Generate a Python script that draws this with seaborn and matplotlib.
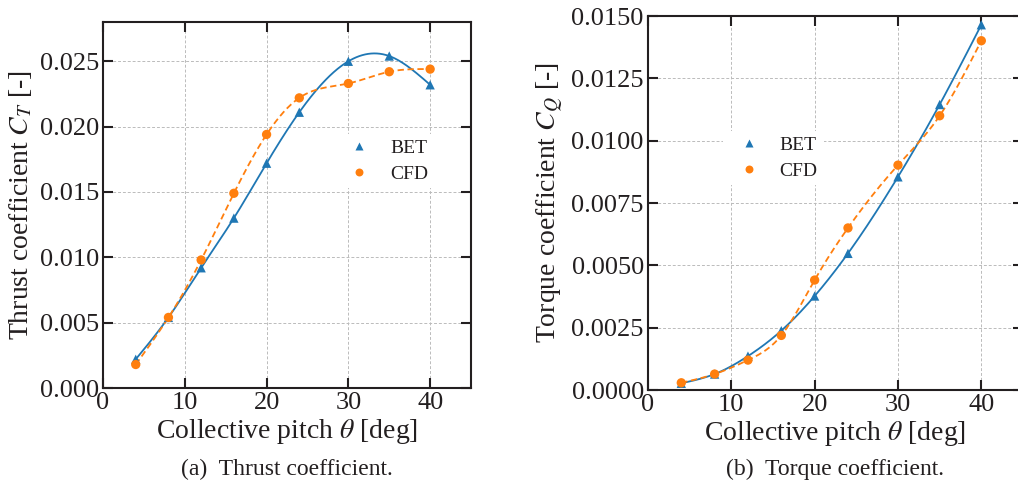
import numpy as np
import pandas as pd
import matplotlib
matplotlib.use("Agg")
import matplotlib.pyplot as plt
import seaborn as sns

pitch = [4, 8, 12, 16, 20, 24, 30, 35, 40]
ct_bet = [0.0022, 0.0054, 0.0092, 0.0130, 0.0172, 0.0211, 0.0250, 0.0254, 0.0232]
ct_cfd = [0.0018, 0.0054, 0.0098, 0.0149, 0.0194, 0.0222, 0.0233, 0.0242, 0.0244]
cq_bet = [0.00027, 0.00064, 0.00136, 0.00238, 0.00377, 0.00548, 0.00855, 0.01145, 0.01465]
cq_cfd = [0.00029, 0.00064, 0.00120, 0.00219, 0.00441, 0.00650, 0.00902, 0.01100, 0.01401]
xticks = [0, 10, 20, 30, 40]
ct_ticks = [0.000, 0.005, 0.010, 0.015, 0.020, 0.025]
cq_ticks = [0.0, 0.0025, 0.0050, 0.0075, 0.0100, 0.0125, 0.0150]


def spline(x, y, xs):
    """Natural cubic spline through the data points."""
    x = np.asarray(x, float); y = np.asarray(y, float)
    n = len(x)
    h = np.diff(x)
    A = np.zeros((n, n)); b = np.zeros(n)
    A[0, 0] = 1; A[-1, -1] = 1
    for i in range(1, n - 1):
        A[i, i - 1] = h[i - 1]
        A[i, i] = 2 * (h[i - 1] + h[i])
        A[i, i + 1] = h[i]
        b[i] = 6 * ((y[i + 1] - y[i]) / h[i] - (y[i] - y[i - 1]) / h[i - 1])
    M = np.linalg.solve(A, b)
    out = np.empty_like(xs)
    for k, xv in enumerate(xs):
        i = min(max(np.searchsorted(x, xv) - 1, 0), n - 2)
        t1 = x[i + 1] - xv; t0 = xv - x[i]
        out[k] = (M[i] * t1**3 / (6 * h[i]) + M[i + 1] * t0**3 / (6 * h[i])
                  + (y[i] / h[i] - M[i] * h[i] / 6) * t1
                  + (y[i + 1] / h[i] - M[i + 1] * h[i] / 6) * t0)
    return out


sns.set_style("ticks")
plt.rcParams["font.family"] = ["Liberation Serif", "DejaVu Serif"]
plt.rcParams["mathtext.fontset"] = "stix"

blue = "#1f77b4"
orange = "#ff7f0e"
dark = "#231f20"

fig = plt.figure(figsize=(10.18, 4.86), dpi=100)
axL = fig.add_axes([0.1012, 0.2016, 0.3615, 0.753])
axR = fig.add_axes([0.6365, 0.1975, 0.3684, 0.7695])


def draw(ax, bet, cfd, ylim, yticks, ylabel, fmt, caption, leg_anchor):
    xs = np.linspace(pitch[0], pitch[-1], 300)
    df_b = pd.DataFrame({"x": xs, "y": spline(pitch, bet, xs)})
    df_c = pd.DataFrame({"x": xs, "y": spline(pitch, cfd, xs)})
    sns.lineplot(data=df_b, x="x", y="y", ax=ax, color=blue, lw=1.3, zorder=3)
    sns.lineplot(data=df_c, x="x", y="y", ax=ax, color=orange, lw=1.3,
                 linestyle=(0, (3.5, 2)), zorder=3)
    pts = pd.DataFrame({"x": pitch * 2, "y": list(bet) + list(cfd),
                        "s": ["BET"] * len(pitch) + ["CFD"] * len(pitch)})
    sns.scatterplot(data=pts, x="x", y="y", hue="s", style="s",
                    markers={"BET": "^", "CFD": "o"},
                    palette={"BET": blue, "CFD": orange},
                    s=45, edgecolor="none", ax=ax, zorder=4)
    ax.set_xlim(0, 45)
    ax.set_ylim(*ylim)
    ax.set_xticks(xticks)
    ax.set_yticks(yticks)
    ax.set_yticklabels([fmt.format(v) for v in yticks])
    ax.grid(True, color="#bbbbbb", linestyle=(0, (3, 2)), lw=0.7)
    ax.tick_params(direction="in", length=7, width=1.5, colors=dark,
                   labelcolor=dark, labelsize=19, top=True, right=True, pad=3)
    for sp in ax.spines.values():
        sp.set_color(dark)
        sp.set_linewidth(1.5)
    ax.set_xlabel(r"Collective pitch $\theta$ [deg]", fontsize=20, color=dark, labelpad=2)
    ax.set_ylabel(ylabel, fontsize=20, color=dark, labelpad=4)
    h, l = ax.get_legend_handles_labels()
    leg = ax.legend(h, l, loc="center left", bbox_to_anchor=leg_anchor,
                    frameon=True, fontsize=14, handletextpad=0.6,
                    labelspacing=0.4, borderpad=0.3, fancybox=False,
                    markerscale=0.85)
    leg.get_frame().set_edgecolor("none")
    leg.get_frame().set_facecolor("white")
    leg.get_frame().set_alpha(1)
    for t in leg.get_texts():
        t.set_color(dark)
    bb = ax.get_position()
    fig.text((bb.x0 + bb.x1) / 2, 0.034, caption, ha="center",
             va="center", fontsize=17, color=dark)


draw(axL, ct_bet, ct_cfd, (0, 0.028), ct_ticks, r"Thrust coefficient $C_T$ [-]",
     "{:.3f}", "(a)  Thrust coefficient.", (0.60, 0.62))
draw(axR, cq_bet, cq_cfd, (0, 0.015), cq_ticks, r"Torque coefficient $C_Q$ [-]",
     "{:.4f}", "(b)  Torque coefficient.", (0.175, 0.62))

fig.savefig("out.png", dpi=100)
